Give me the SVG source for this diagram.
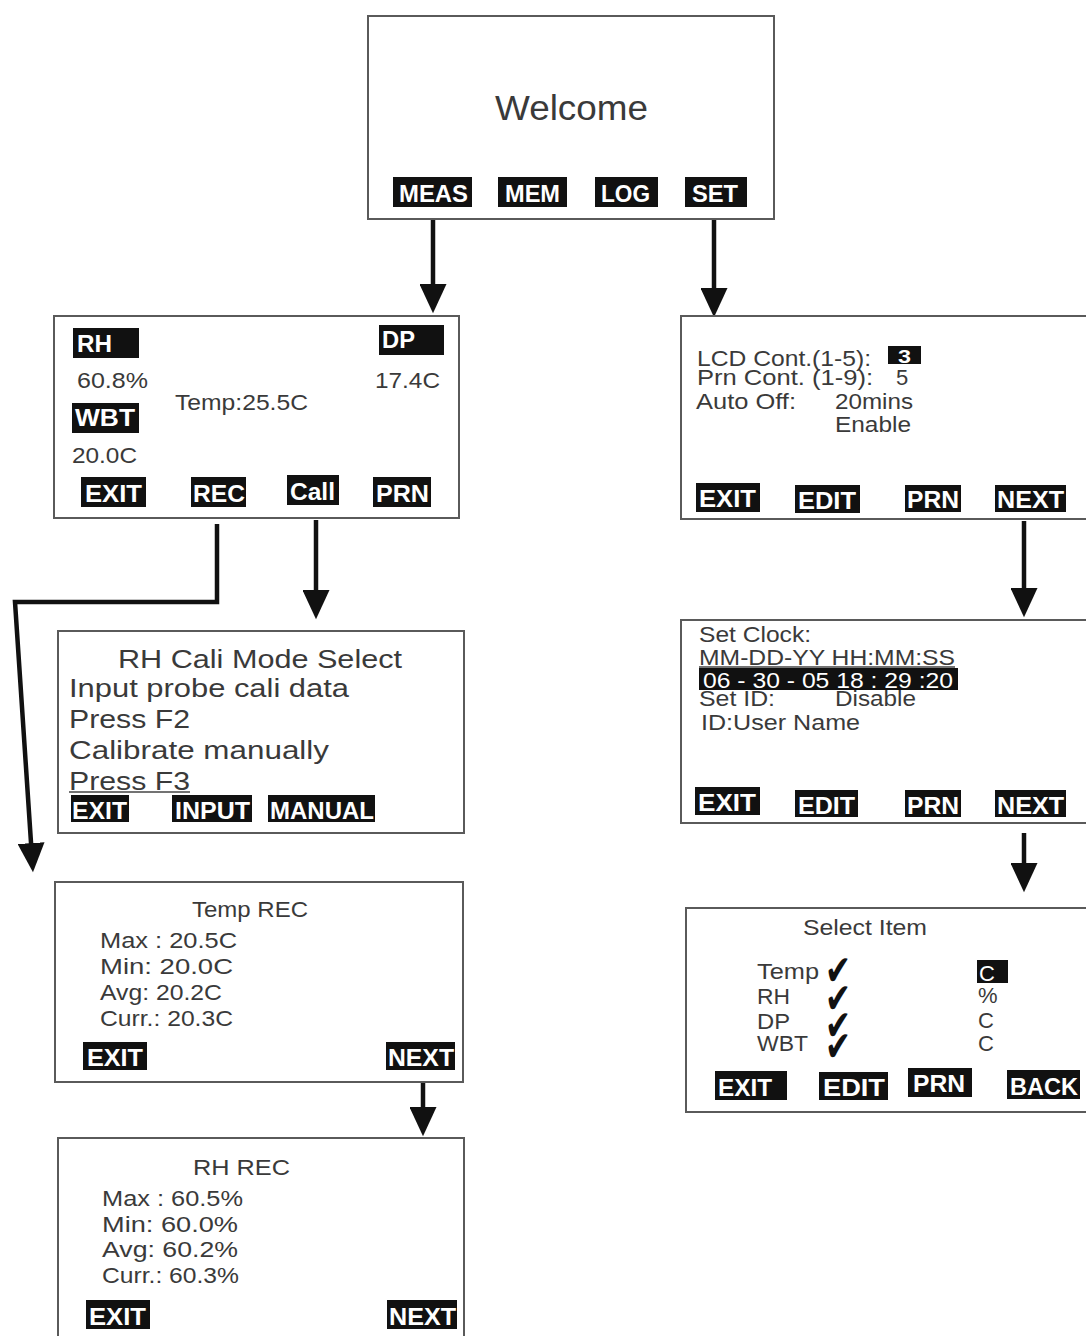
<svg xmlns="http://www.w3.org/2000/svg" width="1086" height="1336" viewBox="0 0 1086 1336">
<style>
.box{fill:#fff;stroke:#5a5a5a;stroke-width:2}
.btn{fill:#111}
.bt{fill:#fff;font-family:"Liberation Sans",Arial,sans-serif;font-size:24px;font-weight:bold}
.t{fill:#3a3a3a;font-family:"Liberation Sans",Arial,sans-serif;font-size:22px}
.big{font-size:26px}
.ck{fill:#111;font-family:"DejaVu Sans",sans-serif;font-size:42px}
.ln{fill:none;stroke:#111;stroke-width:4.5}
.ul{stroke:#444;stroke-width:1.5}
</style>
<defs>
<marker id="ah" markerWidth="7" markerHeight="6" refX="0.2" refY="3" orient="auto" markerUnits="strokeWidth">
<path d="M0,0 L6.5,3 L0,6 Z" fill="#111"/>
</marker>
</defs>
<rect width="1086" height="1336" fill="#fff"/>

<g id="connectors">
<path class="ln" d="M433,219 V285" marker-end="url(#ah)"/>
<path class="ln" d="M714,219 V289" marker-end="url(#ah)"/>
<path class="ln" d="M316,520 V591" marker-end="url(#ah)"/>
<path class="ln" d="M217,524 V602 H15 L31.1,844" marker-end="url(#ah)"/>
<path class="ln" d="M1024,521 V589" marker-end="url(#ah)"/>
<path class="ln" d="M1024,833 V864" marker-end="url(#ah)"/>
<path class="ln" d="M423,1083 V1108" marker-end="url(#ah)"/>
</g>

<g id="welcome">
<rect class="box" x="368" y="16" width="406" height="203"/>
<text class="t" x="495" y="120" style="font-size:35px" textLength="153" lengthAdjust="spacingAndGlyphs">Welcome</text>
<rect class="btn" x="393" y="177" width="79" height="30"/><text class="bt" x="399" y="202" textLength="69" lengthAdjust="spacingAndGlyphs">MEAS</text>
<rect class="btn" x="498" y="177" width="69" height="30"/><text class="bt" x="505" y="202" textLength="55" lengthAdjust="spacingAndGlyphs">MEM</text>
<rect class="btn" x="595" y="177" width="63" height="30"/><text class="bt" x="601" y="202" textLength="49" lengthAdjust="spacingAndGlyphs">LOG</text>
<rect class="btn" x="685" y="177" width="62" height="30"/><text class="bt" x="692" y="202" textLength="46" lengthAdjust="spacingAndGlyphs">SET</text>
</g>

<g id="measure">
<rect class="box" x="54" y="316" width="405" height="202"/>
<rect class="btn" x="73" y="328" width="66" height="30"/><text class="bt" x="77" y="352" textLength="35" lengthAdjust="spacingAndGlyphs">RH</text>
<rect class="btn" x="379" y="325" width="65" height="30"/><text class="bt" x="382" y="348" textLength="33" lengthAdjust="spacingAndGlyphs">DP</text>
<text class="t" x="77" y="388" textLength="71" lengthAdjust="spacingAndGlyphs">60.8%</text>
<text class="t" x="375" y="388" textLength="65" lengthAdjust="spacingAndGlyphs">17.4C</text>
<rect class="btn" x="72" y="403" width="67" height="30"/><text class="bt" x="75" y="426" textLength="60" lengthAdjust="spacingAndGlyphs">WBT</text>
<text class="t" x="175" y="410" textLength="133" lengthAdjust="spacingAndGlyphs">Temp:25.5C</text>
<text class="t" x="72" y="463" textLength="65" lengthAdjust="spacingAndGlyphs">20.0C</text>
<rect class="btn" x="81" y="477" width="65" height="30"/><text class="bt" x="85" y="502" textLength="57" lengthAdjust="spacingAndGlyphs">EXIT</text>
<rect class="btn" x="191" y="477" width="55" height="30"/><text class="bt" x="193" y="502" textLength="52" lengthAdjust="spacingAndGlyphs">REC</text>
<rect class="btn" x="287" y="475" width="52" height="30"/><text class="bt" x="290" y="500" textLength="45" lengthAdjust="spacingAndGlyphs">Call</text>
<rect class="btn" x="373" y="477" width="58" height="30"/><text class="bt" x="376" y="502" textLength="53" lengthAdjust="spacingAndGlyphs">PRN</text>
</g>

<g id="settings">
<rect class="box" x="681" y="316" width="410" height="203"/>
<text class="t" x="697" y="366" textLength="174" lengthAdjust="spacingAndGlyphs">LCD Cont.(1-5):</text>
<rect class="btn" x="888" y="346" width="33" height="18"/><text class="bt" x="898" y="363" style="font-size:19px" textLength="13" lengthAdjust="spacingAndGlyphs">3</text>
<text class="t" x="697" y="385" textLength="176" lengthAdjust="spacingAndGlyphs">Prn Cont.  (1-9):</text>
<text class="t" x="896" y="385">5</text>
<text class="t" x="696" y="409" textLength="100" lengthAdjust="spacingAndGlyphs">Auto Off:</text>
<text class="t" x="835" y="409" textLength="78" lengthAdjust="spacingAndGlyphs">20mins</text>
<text class="t" x="835" y="432" textLength="76" lengthAdjust="spacingAndGlyphs">Enable</text>
<rect class="btn" x="696" y="483" width="64" height="29"/><text class="bt" x="699" y="507" textLength="57" lengthAdjust="spacingAndGlyphs">EXIT</text>
<rect class="btn" x="795" y="485" width="65" height="28"/><text class="bt" x="798" y="509" textLength="58" lengthAdjust="spacingAndGlyphs">EDIT</text>
<rect class="btn" x="905" y="485" width="56" height="27"/><text class="bt" x="907" y="508" textLength="52" lengthAdjust="spacingAndGlyphs">PRN</text>
<rect class="btn" x="995" y="485" width="71" height="27"/><text class="bt" x="997" y="508" textLength="67" lengthAdjust="spacingAndGlyphs">NEXT</text>
</g>

<g id="rh-cali">
<rect class="box" x="58" y="631" width="406" height="202"/>
<text class="t big" x="118" y="668" textLength="284" lengthAdjust="spacingAndGlyphs">RH Cali Mode Select</text>
<text class="t big" x="69" y="697" textLength="280" lengthAdjust="spacingAndGlyphs">Input probe cali data</text>
<text class="t big" x="69" y="728" textLength="121" lengthAdjust="spacingAndGlyphs">Press F2</text>
<text class="t big" x="69" y="759" textLength="260" lengthAdjust="spacingAndGlyphs">Calibrate manually</text>
<text class="t big" x="69" y="790" textLength="121" lengthAdjust="spacingAndGlyphs">Press F3</text>
<line class="ul" x1="69" y1="792" x2="190" y2="792"/>
<rect class="btn" x="71" y="795" width="58" height="27"/><text class="bt" x="72" y="819" textLength="55" lengthAdjust="spacingAndGlyphs">EXIT</text>
<rect class="btn" x="172" y="795" width="80" height="27"/><text class="bt" x="175" y="819" textLength="75" lengthAdjust="spacingAndGlyphs">INPUT</text>
<rect class="btn" x="268" y="795" width="107" height="27"/><text class="bt" x="270" y="819" textLength="104" lengthAdjust="spacingAndGlyphs">MANUAL</text>
</g>

<g id="clock">
<rect class="box" x="681" y="620" width="410" height="203"/>
<text class="t" x="699" y="642" textLength="112" lengthAdjust="spacingAndGlyphs">Set Clock:</text>
<text class="t" x="699" y="665" textLength="256" lengthAdjust="spacingAndGlyphs">MM-DD-YY HH:MM:SS</text>
<line class="ul" x1="699" y1="667" x2="955" y2="667"/>
<rect class="btn" x="699" y="668" width="259" height="22"/>
<text class="bt" x="703" y="688" style="font-size:22px;font-weight:normal" textLength="250" lengthAdjust="spacingAndGlyphs">06 - 30 - 05  18 : 29 :20</text>
<text class="t" x="699" y="706" textLength="76" lengthAdjust="spacingAndGlyphs">Set ID:</text>
<text class="t" x="835" y="706" textLength="81" lengthAdjust="spacingAndGlyphs">Disable</text>
<text class="t" x="701" y="730" textLength="159" lengthAdjust="spacingAndGlyphs">ID:User Name</text>
<rect class="btn" x="695" y="787" width="65" height="28"/><text class="bt" x="698" y="811" textLength="58" lengthAdjust="spacingAndGlyphs">EXIT</text>
<rect class="btn" x="795" y="790" width="63" height="27"/><text class="bt" x="798" y="814" textLength="57" lengthAdjust="spacingAndGlyphs">EDIT</text>
<rect class="btn" x="905" y="790" width="56" height="27"/><text class="bt" x="907" y="814" textLength="52" lengthAdjust="spacingAndGlyphs">PRN</text>
<rect class="btn" x="995" y="790" width="71" height="27"/><text class="bt" x="997" y="814" textLength="67" lengthAdjust="spacingAndGlyphs">NEXT</text>
</g>

<g id="temp-rec">
<rect class="box" x="55" y="882" width="408" height="200"/>
<text class="t" x="192" y="917" textLength="116" lengthAdjust="spacingAndGlyphs">Temp REC</text>
<text class="t" x="100" y="948" textLength="137" lengthAdjust="spacingAndGlyphs">Max :  20.5C</text>
<text class="t" x="100" y="974" textLength="133" lengthAdjust="spacingAndGlyphs">Min:   20.0C</text>
<text class="t" x="100" y="1000" textLength="122" lengthAdjust="spacingAndGlyphs">Avg: 20.2C</text>
<text class="t" x="100" y="1026" textLength="133" lengthAdjust="spacingAndGlyphs">Curr.: 20.3C</text>
<rect class="btn" x="83" y="1042" width="64" height="28"/><text class="bt" x="87" y="1066" textLength="56" lengthAdjust="spacingAndGlyphs">EXIT</text>
<rect class="btn" x="386" y="1042" width="69" height="28"/><text class="bt" x="388" y="1066" textLength="66" lengthAdjust="spacingAndGlyphs">NEXT</text>
</g>

<g id="select-item">
<rect class="box" x="686" y="908" width="405" height="204"/>
<text class="t" x="803" y="935" textLength="124" lengthAdjust="spacingAndGlyphs">Select Item</text>
<text class="t" x="757" y="979" textLength="62" lengthAdjust="spacingAndGlyphs">Temp</text>
<text class="t" x="757" y="1004" textLength="33" lengthAdjust="spacingAndGlyphs">RH</text>
<text class="t" x="757" y="1029" textLength="33" lengthAdjust="spacingAndGlyphs">DP</text>
<text class="t" x="757" y="1051" textLength="51" lengthAdjust="spacingAndGlyphs">WBT</text>
<text class="ck" x="825" y="985" textLength="26" lengthAdjust="spacingAndGlyphs">✔</text>
<text class="ck" x="825" y="1013" textLength="26" lengthAdjust="spacingAndGlyphs">✔</text>
<text class="ck" x="825" y="1040" textLength="26" lengthAdjust="spacingAndGlyphs">✔</text>
<text class="ck" x="825" y="1061" textLength="26" lengthAdjust="spacingAndGlyphs">✔</text>
<rect class="btn" x="977" y="960" width="31" height="23"/><text class="bt" x="979" y="981" style="font-size:22px;font-weight:normal">C</text>
<text class="t" x="978" y="1003">%</text>
<text class="t" x="978" y="1028">C</text>
<text class="t" x="978" y="1051">C</text>
<rect class="btn" x="715" y="1071" width="72" height="29"/><text class="bt" x="718" y="1096" textLength="54" lengthAdjust="spacingAndGlyphs">EXIT</text>
<rect class="btn" x="819" y="1072" width="69" height="28"/><text class="bt" x="823" y="1096" textLength="62" lengthAdjust="spacingAndGlyphs">EDIT</text>
<rect class="btn" x="908" y="1068" width="64" height="29"/><text class="bt" x="913" y="1092" textLength="52" lengthAdjust="spacingAndGlyphs">PRN</text>
<rect class="btn" x="1007" y="1070" width="73" height="29"/><text class="bt" x="1010" y="1095" textLength="68" lengthAdjust="spacingAndGlyphs">BACK</text>
</g>

<g id="rh-rec">
<rect class="box" x="58" y="1138" width="406" height="210"/>
<text class="t" x="193" y="1175" textLength="97" lengthAdjust="spacingAndGlyphs">RH  REC</text>
<text class="t" x="102" y="1206" textLength="141" lengthAdjust="spacingAndGlyphs">Max :  60.5%</text>
<text class="t" x="102" y="1232" textLength="136" lengthAdjust="spacingAndGlyphs">Min:   60.0%</text>
<text class="t" x="102" y="1257" textLength="136" lengthAdjust="spacingAndGlyphs">Avg:   60.2%</text>
<text class="t" x="102" y="1283" textLength="137" lengthAdjust="spacingAndGlyphs">Curr.: 60.3%</text>
<rect class="btn" x="86" y="1300" width="64" height="29"/><text class="bt" x="89" y="1325" textLength="57" lengthAdjust="spacingAndGlyphs">EXIT</text>
<rect class="btn" x="387" y="1300" width="70" height="29"/><text class="bt" x="389" y="1325" textLength="67" lengthAdjust="spacingAndGlyphs">NEXT</text>
</g>
</svg>
